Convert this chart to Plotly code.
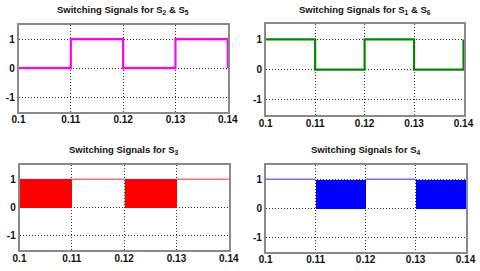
import plotly.graph_objects as go

# ---- data ----
t_edges = [0.10, 0.11, 0.12, 0.13, 0.14]
s25 = [0, 1, 0, 1, 0]          # S2 & S5 step values at each edge
s16 = [1, 0, 1, 0, 1]          # S1 & S6 step values at each edge
s3_mode = ["pwm", "high", "pwm", "high"]   # per interval
s4_mode = ["high", "pwm", "high", "pwm"]   # per interval
x_ticks = [0.10, 0.11, 0.12, 0.13, 0.14]
x_ticktext = ["0.1", "0.11", "0.12", "0.13", "0.14"]
y_ticks = [-1, 0, 1]
y_ticktext = ["-1", "0", "1"]
titles = ["Switching Signals for S<sub>2</sub> & S<sub>5</sub>",
          "Switching Signals for S<sub>1</sub> & S<sub>6</sub>",
          "Switching Signals for S<sub>3</sub>",
          "Switching Signals for S<sub>4</sub>"]

W, H = 480, 271
# pixel boxes: (left, right, top, bottom)
boxes = [(18.5, 228.3, 24.5, 111.7),
         (265.7, 464.0, 24.3, 115.0),
         (19.5, 229.3, 165.0, 250.0),
         (265.7, 466.0, 164.7, 251.7)]
title_y = [10, 10, 150, 150]

fig = go.Figure()

def xd(a, b):
    return [a / W, b / W]

def yd(top, bot):
    return [1 - bot / H, 1 - top / H]

# Top-left: S2 & S5
fig.add_trace(go.Scatter(x=t_edges, y=s25, mode="lines", line_shape="hv",
                         line=dict(color="#FF00FF", width=2.2),
                         xaxis="x", yaxis="y", showlegend=False))
# Top-right: S1 & S6
fig.add_trace(go.Scatter(x=t_edges, y=s16, mode="lines", line_shape="hv",
                         line=dict(color="#008800", width=2.2),
                         xaxis="x2", yaxis="y2", showlegend=False))

def pwm_traces(modes, color, light, xa, ya):
    starts = t_edges[:-1]
    widths = [t_edges[i + 1] - t_edges[i] for i in range(len(starts))]
    bx = [s for s, m in zip(starts, modes) if m == "pwm"]
    bw = [w for w, m in zip(widths, modes) if m == "pwm"]
    lx, ly = [], []
    for i, m in enumerate(modes):
        if m == "high":
            lx += [t_edges[i], t_edges[i + 1], None]
            ly += [1, 1, None]
    fig.add_trace(go.Scatter(x=lx, y=ly, mode="lines",
                             line=dict(color=light, width=1.5),
                             xaxis=xa, yaxis=ya, showlegend=False))
    fig.add_trace(go.Bar(x=bx, y=[1] * len(bx), base=0, width=bw, offset=0,
                         marker=dict(color=color, line=dict(width=0)),
                         xaxis=xa, yaxis=ya, showlegend=False))

pwm_traces(s3_mode, "#FF0000", "#FF7070", "x3", "y3")
pwm_traces(s4_mode, "#0000FF", "#7070FF", "x4", "y4")

tickfont = dict(family="Liberation Sans, Arial", size=10, color="#111")
layout = dict(width=W, height=H, margin=dict(l=0, r=0, t=0, b=0, autoexpand=False),
              paper_bgcolor="white", plot_bgcolor="white", barmode="overlay",
              bargap=0, showlegend=False)
annotations = []
for i, (l, r, tp, bt) in enumerate(boxes):
    sfx = "" if i == 0 else str(i + 1)
    layout["xaxis" + sfx] = dict(
        domain=xd(l, r), range=[0.1, 0.1401], anchor="y" + sfx,
        tickvals=x_ticks, ticktext=["<b>" + s + "</b>" for s in x_ticktext],
        tickfont=tickfont, automargin=False,
        showgrid=True, gridcolor="#333", griddash="1px,2px", gridwidth=1,
        showline=True, linecolor="#8a8a8a", linewidth=1.5, mirror=True,
        ticks="", zeroline=False, ticklabelstandoff=-2)
    layout["yaxis" + sfx] = dict(
        domain=yd(tp, bt), range=[-1.5, 1.5], anchor="x" + sfx,
        tickvals=y_ticks, ticktext=["<b>" + s + "</b>" for s in y_ticktext],
        tickfont=tickfont, automargin=False,
        showgrid=True, gridcolor="#333", griddash="1px,2px", gridwidth=1,
        showline=True, linecolor="#8a8a8a", linewidth=1.5, mirror=True,
        ticks="", zeroline=False, ticklabelstandoff=0)
    annotations.append(dict(text="<b>" + titles[i] + "</b>", xref="paper", yref="paper",
                            x=(l + r) / 2 / W, y=1 - title_y[i] / H,
                            xanchor="center", yanchor="middle", showarrow=False,
                            font=dict(family="Liberation Sans, Arial", size=9.5, color="#111")))
layout["annotations"] = annotations
fig.update_layout(**layout)

fig.write_html("out.html", config={"displayModeBar": False},
               post_script="document.body.style.margin='0';document.body.style.overflow='hidden';")
